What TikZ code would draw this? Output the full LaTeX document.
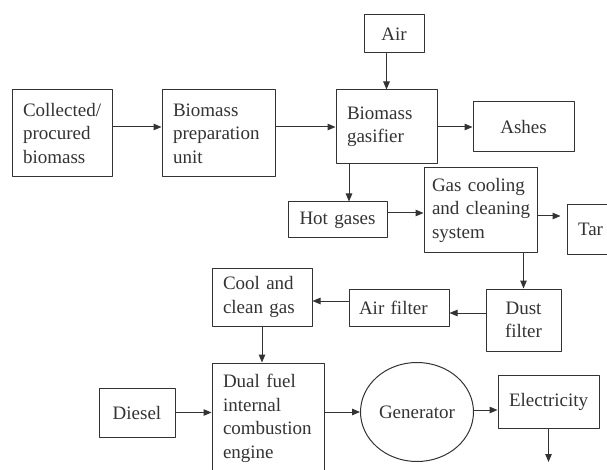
\documentclass[tikz,border=0pt]{standalone}
\usepackage{fontspec}
\setmainfont{Liberation Serif}
\usetikzlibrary{arrows.meta, calc, positioning, shapes.geometric}
\definecolor{ink}{HTML}{333333}
\newcommand\blkfont{\fontsize{19}{23.5}\selectfont\hyphenpenalty=10000\relax}
\tikzset{
  >={Triangle[length=8pt, width=6.5pt]},
  every picture/.style={line cap=round, line join=round},
  blk/.style={draw=ink, line width=1pt, text=ink, inner xsep=11pt, inner ysep=0pt,
    align=left, font=\blkfont},
  flow/.style={->, draw=ink, line width=1pt},
}
\begin{document}
\begin{tikzpicture}[x=1pt, y=-1pt]
  \useasboundingbox (0,0) rectangle (607,470);
  % gasification line
  \node[blk, text width=78pt, minimum height=87pt] (collected) at (62,133.5) {Collected/\\procured\\biomass};
  \node[blk, text width=91pt, minimum height=87pt] (prep) at (218.5,133.5) {Biomass\\preparation\\unit};
  \node[blk, align=center, text width=38pt, minimum height=38pt] (air) at (394,34) {Air};
  \node[blk, text width=79pt, minimum height=74pt] (gasifier) at (386.5,127) {Biomass\\gasifier};
  \node[blk, align=center, text width=79pt, minimum height=50pt] (ashes) at (523.5,127) {Ashes};
  % gas treatment
  \node[blk, inner xsep=8pt, text width=97pt, minimum height=84pt] (cooling) at (480.5,210) {Gas cooling\\and~cleaning\\system};
  \node[blk, align=center, text width=77pt, minimum height=36pt] (hot) at (337.5,220) {Hot gases};
  \node[blk, align=center, text width=24pt, minimum height=49pt] (tar) at (590,229.5) {Tar};
  \node[blk, align=center, text width=53pt, minimum height=62pt] (dust) at (523.5,320) {Dust\\filter};
  \node[blk, inner xsep=10pt, text width=80pt, minimum height=37pt] (airfilter) at (399,307.5) {Air filter};
  \node[blk, text width=78pt, minimum height=58pt] (cleangas) at (262,297) {Cool and\\clean gas};
  % power generation
  \node[blk, text width=90pt, minimum height=111pt] (engine) at (268,418.5) {Dual fuel\\internal\\combustion\\engine};
  \node[blk, align=center, text width=54pt, minimum height=49pt] (diesel) at (137,412.5) {Diesel};
  \node[blk, ellipse, inner xsep=0pt, minimum width=113pt, minimum height=99pt] (generator) at (417,412) {Generator};
  \node[blk, align=center, text width=79pt, minimum height=53pt] (electricity) at (548.5,401.5) {Electricity};
  \coordinate (out) at (548.5,462);

  \draw[flow] (collected.east |- gasifier) -- (prep.west |- gasifier);
  \draw[flow] (prep.east |- gasifier) -- (gasifier.west);
  \draw[flow] (air.south -| gasifier) -- (gasifier.north);
  \draw[flow] (gasifier.east) -- (ashes.west);
  \draw[flow] ([xshift=-37.5pt]gasifier.south) -- ([xshift=-37.5pt]gasifier.south |- hot.north);
  \draw[flow] ([yshift=7pt]hot.east) -- ([yshift=7pt]hot.east -| cooling.west);
  \draw[flow, shorten >=6pt] ([yshift=-6pt]cooling.east) -- ([yshift=-6pt]cooling.east -| tar.west);
  \draw[flow] (cooling.south -| dust) -- (dust.north);
  \draw[flow] ([yshift=7pt]dust.west) -- ([yshift=7pt]dust.west -| airfilter.east);
  \draw[flow] ([yshift=6.5pt]airfilter.west) -- ([yshift=6.5pt]airfilter.west -| cleangas.east);
  \draw[flow] (cleangas.south) -- (cleangas.south |- engine.north);
  \draw[flow] (diesel.east) -- (diesel.east -| engine.west);
  \draw[flow] (engine.east |- generator) -- (generator.west);
  \draw[flow] ([yshift=2pt]generator.east) -- ([yshift=2pt]generator.east -| electricity.west);
  \draw[flow] (electricity.south) -- (out);
\end{tikzpicture}
\end{document}
